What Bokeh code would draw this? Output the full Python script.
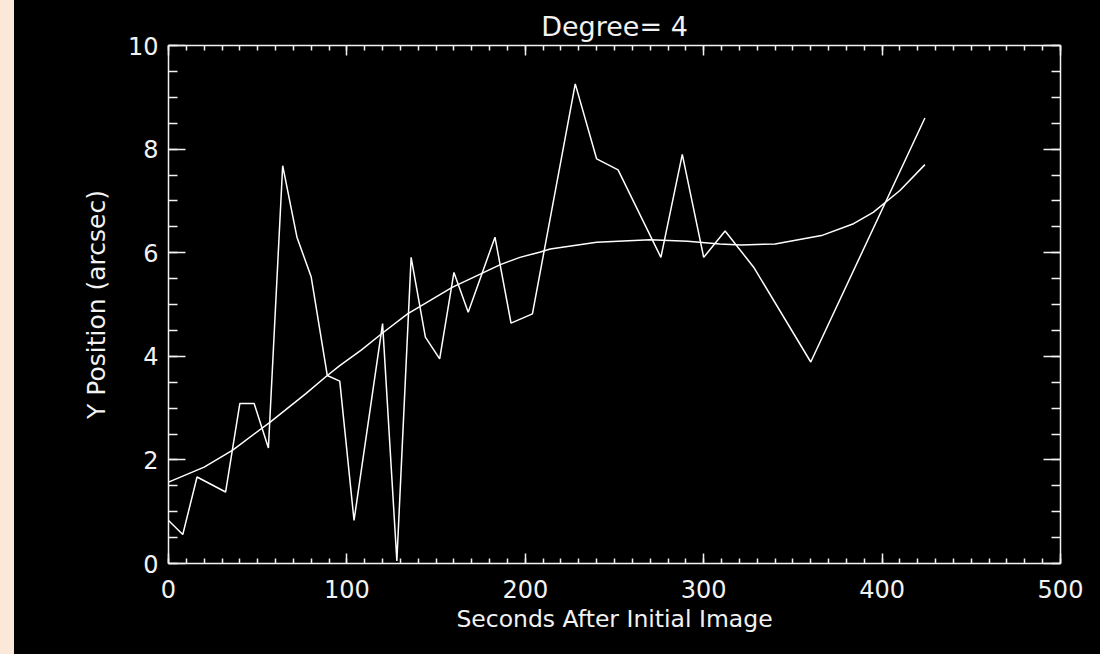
from bokeh.plotting import figure
from bokeh.models import Range1d, LinearAxis, SingleIntervalTicker, Spacer
from bokeh.layouts import row
from bokeh.embed import file_html
from bokeh.resources import INLINE

# Data
seconds = [0, 8, 16, 32, 40, 48, 56, 64, 72, 80, 89, 96, 104, 120, 128, 136, 144,
           152, 160, 168, 183, 192, 204, 228, 240, 252, 276, 288, 300, 312, 328, 360, 424]
y_pos = [0.83, 0.56, 1.67, 1.38, 3.09, 3.09, 2.23, 7.68, 6.30, 5.53, 3.63, 3.52, 0.83,
         4.63, 0.05, 5.91, 4.37, 3.95, 5.62, 4.85, 6.30, 4.64, 4.82, 9.26, 7.81, 7.60,
         5.91, 7.90, 5.91, 6.42, 5.72, 3.89, 8.60]

fit_seconds = [0, 20, 36, 57, 77, 89, 96, 108, 120, 134, 159, 186, 197, 208, 214, 240,
               270, 291, 309, 321, 340, 366, 384, 395, 410, 424]
fit_y = [1.57, 1.86, 2.19, 2.73, 3.28, 3.63, 3.82, 4.12, 4.45, 4.82, 5.33, 5.77, 5.91,
         6.01, 6.07, 6.20, 6.25, 6.22, 6.17, 6.15, 6.17, 6.33, 6.56, 6.78, 7.20, 7.70]

title_text = "Degree= 4"
x_label = "Seconds After Initial Image"
y_label = "Y Position (arcsec)"

FG = "#f2f2f2"
FONT = "DejaVu Sans"

p = figure(width=1086, height=654, output_backend="svg", toolbar_location=None,
           x_range=Range1d(0, 500), y_range=Range1d(0, 10),
           background_fill_color="black", border_fill_color="black",
           min_border_left=154, min_border_right=40, min_border_top=45,
           min_border_bottom=91, outline_line_color=None)
p.grid.visible = False

p.title.text = title_text
p.title.align = "center"
p.title.text_color = FG
p.title.text_font = FONT
p.title.text_font_size = "27px"
p.title.text_font_style = "normal"
p.title.standoff = 7

def style_axis(ax, major_in, minor_in, show_labels):
    ax.axis_line_color = FG
    ax.axis_line_width = 1.5
    ax.major_tick_line_color = FG
    ax.minor_tick_line_color = FG
    ax.major_tick_line_width = 1.5
    ax.minor_tick_line_width = 1.5
    ax.major_tick_in = major_in
    ax.major_tick_out = 0
    ax.minor_tick_in = minor_in
    ax.minor_tick_out = 0
    ax.major_label_text_font = FONT
    ax.axis_label_text_color = FG
    ax.axis_label_text_font = FONT
    ax.axis_label_text_font_style = "normal"
    if show_labels:
        ax.major_label_text_color = FG
        ax.major_label_text_font_size = "24px"
    else:
        ax.major_label_text_color = None
        ax.major_label_text_font_size = "1px"
        ax.major_label_standoff = 0

xt = SingleIntervalTicker(interval=100, num_minor_ticks=10)
yt = SingleIntervalTicker(interval=2, num_minor_ticks=4)

p.xaxis.ticker = xt
p.yaxis.ticker = yt
style_axis(p.xaxis[0], 10, 5, True)
style_axis(p.yaxis[0], 17, 9, True)
p.xaxis.axis_label = x_label
p.yaxis.axis_label = y_label
p.xaxis.axis_label_text_font_size = "23.5px"
p.yaxis.axis_label_text_font_size = "25px"
p.xaxis.major_label_standoff = 16
p.yaxis.major_label_standoff = 10
p.xaxis.axis_label_standoff = 4
p.yaxis.axis_label_standoff = 14

top = LinearAxis(ticker=SingleIntervalTicker(interval=100, num_minor_ticks=10))
right = LinearAxis(ticker=SingleIntervalTicker(interval=2, num_minor_ticks=4))
style_axis(top, 10, 5, False)
style_axis(right, 17, 9, False)
p.add_layout(top, "above")
p.add_layout(right, "right")

p.line(seconds, y_pos, line_color="white", line_width=1.5)
p.line(fit_seconds, fit_y, line_color="white", line_width=1.5)

layout = row(Spacer(width=14, height=654), p)

html = file_html(layout, INLINE)
style = ("<style>html{background:linear-gradient(90deg,#FCE8D9 0px,#FCE8D9 14px,"
         "#000 14px,#000 100%);} body{background:transparent;}</style>")
html = html.replace("</head>", style + "</head>", 1)
open("out.html", "w").write(html)
